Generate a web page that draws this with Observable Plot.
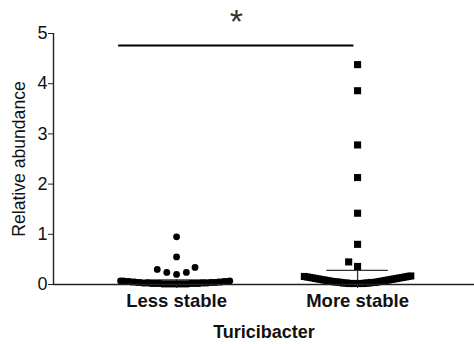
<!DOCTYPE html>
<html>
<head>
<meta charset="utf-8">
<script src="https://cdn.jsdelivr.net/npm/d3@7"></script>
<script src="https://cdn.jsdelivr.net/npm/@observablehq/plot@0.6"></script>
<style>
  html, body { margin: 0; padding: 0; background: #fff; }
</style>
</head>
<body>
<div id="chart"></div>
<script>
// ---- data ----
const categories = ["Less stable", "More stable"];
const categoryPos = [1, 2];
const symbols = ["circle", "square"];
const lessStable = [
  0.95, 0.55, 0.34, 0.30, 0.24, 0.24, 0.20,
  0.01, 0.01, 0.01, 0.01, 0.01, 0.01, 0.01, 0.01, 0.01, 0.01,
  0.02, 0.02, 0.02, 0.02, 0.02, 0.02, 0.02, 0.02,
  0.03, 0.03, 0.03, 0.03, 0.03, 0.03,
  0.04, 0.04, 0.04, 0.04, 0.04,
  0.05, 0.05, 0.05, 0.05,
  0.06, 0.06, 0.06, 0.06,
  0.07, 0.07, 0.07
];
const moreStable = [
  4.38, 3.86, 2.78, 2.13, 1.42, 0.80, 0.45, 0.36,
  0.02, 0.02, 0.02, 0.02, 0.02, 0.02,
  0.03, 0.03, 0.03, 0.03,
  0.04, 0.04, 0.04,
  0.05, 0.05, 0.05,
  0.06, 0.06, 0.07, 0.07, 0.08, 0.08, 0.09, 0.09, 0.10, 0.10,
  0.11, 0.11, 0.12, 0.12, 0.13, 0.13, 0.14, 0.14, 0.15, 0.15,
  0.16, 0.16, 0.17
];
const groupValues = [lessStable, moreStable];
const groupMean = [0.09, 0.28];
const groupLow = [0.02, 0.0];
const yTicks = [0, 1, 2, 3, 4, 5];
const sigFrom = [0.68];
const sigTo = [1.98];
const sigLevel = [4.76];
const sigText = ["*"];
const xTitle = "Turicibacter";
const yTitle = "Relative abundance";

// ---- layout ----
const W = 474, H = 344;
const mL = 53, mR = 0, mT = 33, mB = 60;
const xDomain = [0.32, 2.646];
const yDomain = [0, 5];
const pxPerX = (W - mL - mR) / (xDomain[1] - xDomain[0]);
const pxPerY = (H - mT - mB) / (yDomain[1] - yDomain[0]);
const bandThreshold = 0.19; // values below pile in the crowded band at the baseline
const bandStep = 2.8;        // px between piled points
const dodgeDist = 10;        // px min distance between separated points

function swarm(values) {
  const band = values.filter(v => v < bandThreshold).sort((a, b) => a - b);
  const upper = values.filter(v => v >= bandThreshold).sort((a, b) => a - b);
  const out = band.map((v, i) => ({v, off: (i % 2 ? -1 : 1) * Math.ceil(i / 2) * bandStep}));
  const placed = [];
  for (const v of upper) {
    const cands = [0];
    for (const p of placed) {
      const dy = (v - p.v) * pxPerY;
      if (Math.abs(dy) < dodgeDist) {
        const dx = Math.sqrt(dodgeDist * dodgeDist - dy * dy);
        cands.push(p.off - dx, p.off + dx);
      }
    }
    const sorted = cands.map((c, i) => [c, i]).sort((a, b) => Math.abs(a[0]) - Math.abs(b[0]) || a[1] - b[1]);
    let chosen = 0;
    for (const [c] of sorted) {
      const ok = placed.every(p => {
        const dx = c - p.off, dy = (v - p.v) * pxPerY;
        return dx * dx + dy * dy >= dodgeDist * dodgeDist - 1e-6;
      });
      if (ok) { chosen = c; break; }
    }
    const d = {v, off: chosen};
    placed.push(d);
    out.push(d);
  }
  return out;
}

const points = categories.flatMap((c, i) =>
  swarm(groupValues[i]).map(d => ({
    category: c,
    x: categoryPos[i] + d.off / pxPerX,
    y: d.v,
    symbol: symbols[i]
  }))
);
const summary = categories.map((c, i) => ({
  category: c, pos: categoryPos[i], mean: groupMean[i], low: groupLow[i]
}));
const sig = sigFrom.map((f, i) => ({x1: f, x2: sigTo[i], y: sigLevel[i], mid: (f + sigTo[i]) / 2, text: sigText[i]}));

const font = "'Liberation Sans', Arial, Helvetica, sans-serif";
const ink = "#111";

const chart = Plot.plot({
  width: W, height: H,
  marginLeft: mL, marginRight: mR, marginTop: mT, marginBottom: mB,
  style: {fontFamily: font, fontSize: "17px", color: ink, background: "#fff"},
  x: {domain: xDomain, axis: null},
  y: {domain: yDomain, axis: null},
  symbol: {type: "identity"},
  marks: [
    // mean and error
    Plot.ruleY(summary, {y: "mean", x1: d => d.pos - 0.17, x2: d => d.pos + 0.17, stroke: "#333", strokeWidth: 1.3}),
    Plot.ruleX(summary, {x: "pos", y1: "low", y2: "mean", stroke: "#333", strokeWidth: 1.3}),
    // points
    Plot.dot(points.filter(d => d.symbol === "circle"), {x: "x", y: "y", r: 3.4, fill: "#000", symbol: "circle"}),
    Plot.dot(points.filter(d => d.symbol === "square"), {x: "x", y: "y", r: 4, fill: "#000", symbol: "square"}),
    // axes
    Plot.ruleX([xDomain[0]], {y1: yDomain[0], y2: yDomain[1], stroke: "#222", strokeWidth: 1.4}),
    Plot.ruleY([0], {stroke: "#222", strokeWidth: 1.4}),
    Plot.axisY({
      ticks: yTicks, tickSize: 5, tickPadding: 1, tickFormat: d3.format("d"),
      stroke: "#222", fontSize: 18, label: null
    }),
    Plot.axisY({
      ticks: [], tickSize: 0,
      fontSize: 17.6, label: yTitle, labelAnchor: "center", labelArrow: "none", labelOffset: 41
    }),
    Plot.axisX({
      ticks: categoryPos, tickSize: 4, tickPadding: 5,
      tickFormat: d => categories[categoryPos.indexOf(d)],
      stroke: "#222", fontSize: 18.5, fontWeight: "bold", label: null
    }),
    Plot.axisX({
      ticks: [], tickSize: 0,
      fontSize: 18, fontWeight: "bold",
      label: xTitle, labelAnchor: "center", labelArrow: "none", labelOffset: 53
    }),
    // significance bar
    Plot.ruleY(sig, {y: "y", x1: "x1", x2: "x2", stroke: "#000", strokeWidth: 2}),
    Plot.text(sig, {x: "mid", y: "y", text: "text", fontSize: 34, dy: -23, fill: "#333", fontWeight: 300, lineAnchor: "middle"})
  ]
});
document.getElementById("chart").appendChild(chart);
</script>
</body>
</html>
